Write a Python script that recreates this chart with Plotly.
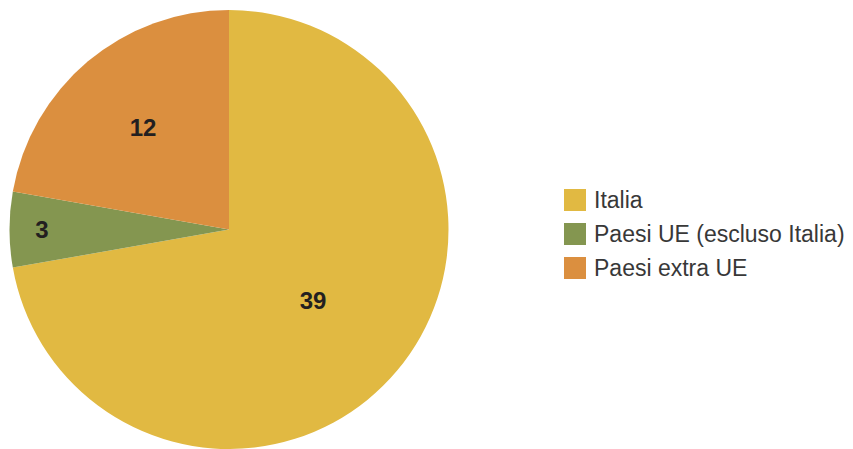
import plotly.graph_objects as go

categories = ["Italia", "Paesi UE (escluso Italia)", "Paesi extra UE"]
values = [39, 3, 12]
colors = ["#E1B942", "#849650", "#DB8F3F"]

W, H = 853, 449

fig = go.Figure()
fig.add_trace(go.Pie(
    labels=categories,
    values=values,
    sort=False,
    direction="clockwise",
    rotation=0,
    marker=dict(colors=colors, line=dict(width=0)),
    textinfo="value",
    textposition="inside",
    insidetextorientation="horizontal",
    textfont=dict(family="Liberation Sans, Arial, sans-serif", size=24, color="#231F20", weight="bold"),
    showlegend=False,
    hoverinfo="label+value",
    domain=dict(x=[9 / W, 449 / W], y=[0, 439 / H]),
))

# Legend drawn with square swatches and text labels
shapes = []
annotations = []
x0, y_top, step, sq = 564, 200, 34, 22
for i, (cat, col) in enumerate(zip(categories, colors)):
    yc = y_top + i * step
    shapes.append(dict(type="rect", xref="paper", yref="paper",
                       x0=x0 / W, x1=(x0 + sq) / W,
                       y0=1 - (yc + sq / 2) / H, y1=1 - (yc - sq / 2) / H,
                       fillcolor=col, line=dict(width=0)))
    annotations.append(dict(xref="paper", yref="paper", x=(x0 + sq + 6) / W, y=1 - yc / H,
                            xanchor="left", yanchor="middle", showarrow=False, text=cat,
                            font=dict(family="Liberation Sans, Arial, sans-serif", size=23, color="#383838")))

fig.update_layout(
    width=W, height=H,
    margin=dict(l=0, r=0, t=0, b=0),
    paper_bgcolor="white",
    plot_bgcolor="white",
    shapes=shapes,
    annotations=annotations,
)

fig.write_html("out.html", config={"displayModeBar": False},
               post_script="document.body.style.margin='0';document.body.style.overflow='hidden';")
